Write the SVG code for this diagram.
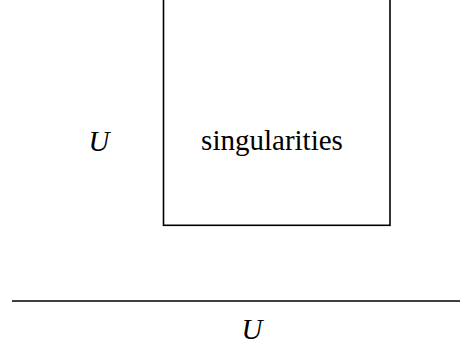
<svg xmlns="http://www.w3.org/2000/svg" width="460" height="347" viewBox="0 0 460 347">
<style>
.t{font-family:"Liberation Serif","Times New Roman",serif;font-size:29px;fill:#000}
.i{font-style:italic}
.s{fill:none;stroke:#000;stroke-width:1.6}
</style>
<rect width="460" height="347" fill="#fff"/>
<g id="box">
<rect class="s" x="163.5" y="-10" width="226.5" height="235.3"/>
<text class="t" x="272" y="150" text-anchor="middle">singularities</text>
</g>
<g id="leftU">
<text class="t i" x="99" y="150.5" text-anchor="middle">U</text>
</g>
<g id="base">
<line class="s" x1="12" y1="301" x2="460" y2="301"/>
<text class="t i" x="252" y="339" text-anchor="middle">U</text>
</g>
<g id="connectors"></g>
</svg>
